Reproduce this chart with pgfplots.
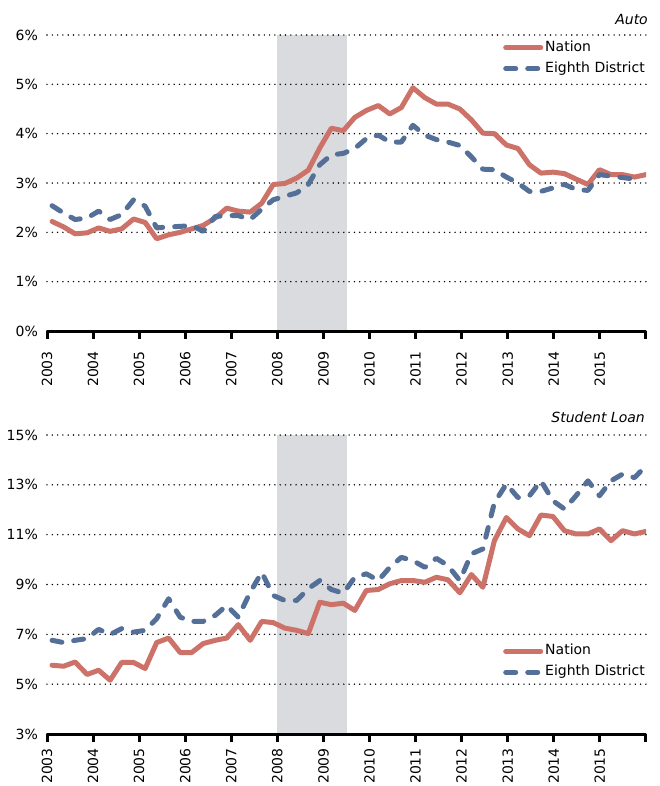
\documentclass[border=0pt]{standalone}
\usepackage{fontspec}
\setmainfont{DejaVu Sans}
\usepackage{pgfplots}
\usepackage{pgfplotstable}
\pgfplotsset{compat=1.18}
\definecolor{nat}{RGB}{204,114,104}
\definecolor{dis}{RGB}{84,112,152}
\definecolor{rec}{RGB}{218,219,222}

\pgfplotstableread{
x aN aD sN sD
2003.11 2.22 2.54 5.76 6.76
2003.36 2.11 2.39 5.72 6.67
2003.61 1.97 2.26 5.89 6.76
2003.87 1.99 2.29 5.39 6.83
2004.12 2.09 2.43 5.56 7.20
2004.37 2.02 2.26 5.16 6.99
2004.62 2.07 2.36 5.87 7.23
2004.88 2.27 2.66 5.87 7.09
2005.13 2.20 2.53 5.63 7.16
2005.38 1.87 2.09 6.67 7.63
2005.64 1.95 2.11 6.85 8.43
2005.89 2.00 2.12 6.27 7.69
2006.14 2.07 2.14 6.27 7.52
2006.39 2.14 2.02 6.63 7.52
2006.65 2.29 2.32 6.76 7.76
2006.90 2.49 2.34 6.85 8.16
2007.15 2.43 2.34 7.39 7.69
2007.41 2.41 2.26 6.76 8.69
2007.66 2.59 2.47 7.52 9.49
2007.91 2.97 2.66 7.47 8.56
2008.16 2.99 2.73 7.25 8.36
2008.42 3.10 2.80 7.16 8.36
2008.67 3.26 2.97 7.03 8.83
2008.92 3.71 3.37 8.29 9.16
2009.17 4.11 3.57 8.19 8.80
2009.43 4.06 3.60 8.25 8.65
2009.68 4.33 3.70 7.96 9.29
2009.93 4.47 3.90 8.76 9.43
2010.19 4.57 3.97 8.80 9.16
2010.44 4.40 3.83 9.03 9.69
2010.69 4.53 3.83 9.16 10.09
2010.94 4.93 4.17 9.16 9.96
2011.20 4.73 3.97 9.09 9.69
2011.45 4.60 3.88 9.29 10.05
2011.70 4.60 3.83 9.19 9.76
2011.96 4.50 3.76 8.67 9.16
2012.21 4.28 3.53 9.40 10.23
2012.46 4.01 3.28 8.89 10.43
2012.71 4.00 3.27 10.76 12.29
2012.97 3.77 3.12 11.69 13.03
2013.22 3.70 3.00 11.23 12.49
2013.47 3.37 2.83 10.96 12.56
2013.72 3.20 2.83 11.79 13.16
2013.98 3.22 2.90 11.73 12.36
2014.23 3.19 2.97 11.16 12.03
2014.48 3.08 2.87 11.03 12.56
2014.74 2.97 2.85 11.03 13.16
2014.99 3.27 3.17 11.23 12.56
2015.24 3.17 3.14 10.76 13.16
2015.49 3.17 3.11 11.16 13.43
2015.75 3.12 3.08 11.03 13.29
2016.00 3.17 nan 11.13 13.76
}\data

\pgfplotsset{
  panel/.style={
    set layers,
    scale only axis,
    width=599bp,
    xmin=2003, xmax=2016,
    xtick={2003,2004,...,2016},
    xticklabels={\mbox{2003},\mbox{2004},\mbox{2005},\mbox{2006},\mbox{2007},\mbox{2008},\mbox{2009},\mbox{2010},\mbox{2011},\mbox{2012},\mbox{2013},\mbox{2014},\mbox{2015},{}},
    /pgf/number format/assume math mode=true,
    axis x line*=bottom,
    axis y line*=left,
    x axis line style={-, black, line width=3bp},
    y axis line style={draw=none},
    tick align=outside,
    major tick length=8bp,
    xtick style={black, line width=3bp},
    ytick style={draw=none},
    ymajorgrids,
    major grid style={black, line width=1.6bp, line cap=round, dash pattern=on 0bp off 5.3bp},
    tick label style={font=\fontsize{14bp}{16bp}\selectfont},
    xticklabel style={rotate=90, anchor=east, inner xsep=12bp},
    yticklabel style={inner xsep=1bp},
    yticklabel={\pgfmathprintnumber{\tick}\%},
    legend cell align=left,
    legend image code/.code={\draw[#1, line cap=round] (0bp,0bp) -- (35bp,0bp);},
    legend style={draw=none, fill=none, inner sep=0pt,
      font=\fontsize{14bp}{16bp}\selectfont,
      row sep=4bp,
      nodes={inner sep=2bp, text height=10bp, text depth=3bp},
      /tikz/every even column/.append style={column sep=6bp}},
  },
  natline/.style={color=nat, line width=5bp, line join=round, line cap=round},
  disline/.style={color=dis, line width=5bp, line join=round, line cap=round, dash pattern=on 10bp off 12bp},
}

\begin{document}
\begin{tikzpicture}
\begin{axis}[panel, name=top, at={(47bp,-35bp)}, anchor=north west,
  height=296bp, ymin=0, ymax=6, ytick={0,1,...,6},
  legend style={at={(1,1)}, anchor=north east, yshift=-4bp, xshift=1bp}]
\pgfonlayer{axis background}
\fill[rec] (axis cs:2008,0) rectangle (axis cs:2009.5,6);
\endpgfonlayer
\addplot[natline] table[x=x, y=aN] {\data};
\addlegendentry{Nation}
\addplot[disline] table[x=x, y=aD] {\data};
\addlegendentry{Eighth District}
\end{axis}
\node[anchor=base east, inner sep=0pt, font=\itshape\fontsize{14bp}{16bp}\selectfont] at ([xshift=2bp, yshift=11bp]top.north east) {Auto};

\begin{axis}[panel, name=bot, at={(47bp,-435bp)}, anchor=north west,
  height=299bp, ymin=3, ymax=15, ytick={3,5,...,15},
  xticklabel style={inner xsep=6bp},
  legend style={at={(1,0)}, anchor=south east, yshift=53bp, xshift=1bp}]
\pgfonlayer{axis background}
\fill[rec] (axis cs:2008,3) rectangle (axis cs:2009.5,15);
\endpgfonlayer
\addplot[natline] table[x=x, y=sN] {\data};
\addlegendentry{Nation}
\addplot[disline] table[x=x, y=sD] {\data};
\addlegendentry{Eighth District}
\end{axis}
\node[anchor=base east, inner sep=0pt, font=\itshape\fontsize{14bp}{16bp}\selectfont] at ([xshift=-1bp, yshift=13bp]bot.north east) {Student Loan};
\pgfresetboundingbox
\path[use as bounding box] (0,0) rectangle (660bp,-786bp);
\end{tikzpicture}
\end{document}
